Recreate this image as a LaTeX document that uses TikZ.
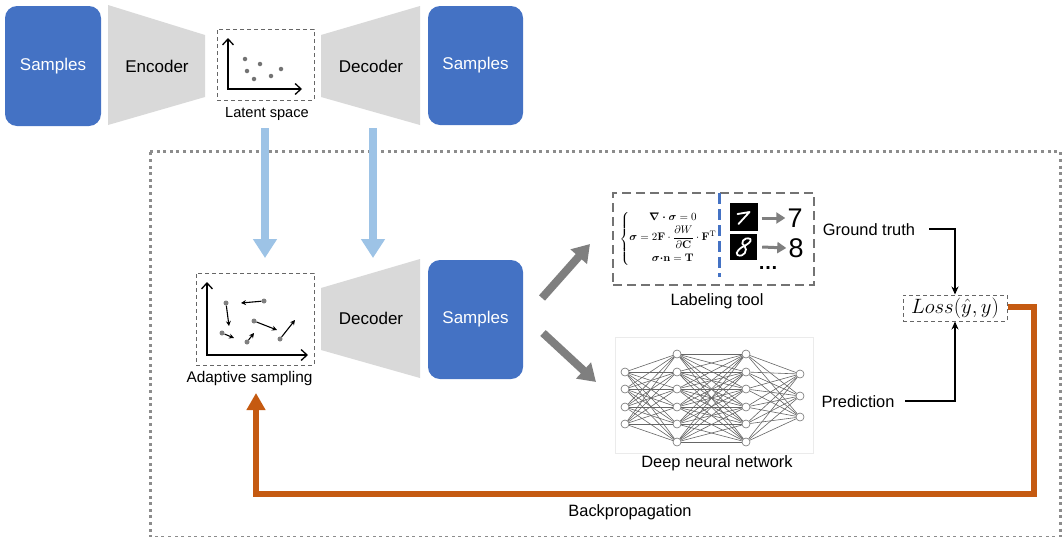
\documentclass[tikz,border=0pt]{standalone}
\usepackage{amsmath,amssymb}
\usepackage[no-math]{fontspec}
\setmainfont{Liberation Sans}
\usetikzlibrary{arrows.meta,calc}
\definecolor{sblue}{HTML}{4472C4}
\definecolor{tgray}{HTML}{D9D9D9}
\definecolor{lblue}{HTML}{9DC3E6}
\definecolor{orng}{HTML}{C55A11}
\definecolor{agray}{HTML}{7F7F7F}
\definecolor{fgray}{HTML}{8C8C8C}
\newcommand{\fs}[1]{\fontsize{#1}{#1}\selectfont}
\tikzset{
 x=1pt,y=-1pt,
 samplebox/.style={fill=sblue,rounded corners=12pt,text=white,font=\fs{17},inner sep=0},
 trapfill/.style={fill=tgray},
 trlabel/.style={font=\fs{17},text=black,inner sep=0},
 txtlabel/.style={font=\fs{16.4},text=black,inner sep=0},
 dashbox/.style={draw=black!60,line width=1pt,dash pattern=on 4pt off 3pt},
 bigarrow/.style={draw=lblue,line width=8pt,-{Triangle[length=19pt,width=23pt]}},
 grayarrow/.style={draw=agray,line width=8pt,-{Triangle[length=17pt,width=21pt]}},
 axisline/.style={draw=black,line width=1.3pt,{Straight Barb[length=6pt,width=11pt]}-{Straight Barb[length=6pt,width=11pt]}},
 latentpt/.style={circle,fill=black!55,minimum size=4.5pt,inner sep=0},
 adaptpt/.style={circle,fill=black!50,minimum size=5pt,inner sep=0},
 movearrow/.style={draw=black,line width=1.1pt,-{Stealth[length=5pt,width=5pt]}},
 neuron/.style={circle,draw=black!55,fill=white,line width=0.6pt,minimum size=8pt,inner sep=0},
 nnline/.style={draw=black!60,line width=0.6pt},
 flowarrow/.style={draw=black,line width=1.4pt,-{Stealth[length=8pt,width=7pt]}},
 backarrow/.style={draw=orng,line width=6pt,-{Triangle[length=17pt,width=18pt]}},
 digitstroke/.style={draw=white,line width=1.8pt,line cap=round,line join=round},
 smallarrow/.style={draw=agray,line width=3pt,-{Triangle[length=9pt,width=11pt]}}
}
\begin{document}
\begin{tikzpicture}
\useasboundingbox (0,0) rectangle (1062,536);
% outer dotted frame
\draw[draw=fgray,line width=3pt,dash pattern=on 3pt off 3.6pt] (150,151.5) -- (1060,151.5) -- (1060,537) -- (150,537) -- cycle;
% top row
\node[samplebox,minimum width=96pt,minimum height=120pt] (s1) at (53,66) {\raisebox{-2pt}{Samples}};
\fill[trapfill] (108,5) -- (205,35) -- (205,97) -- (108,125) -- cycle;
\node[trlabel] (enc) at (157,66) {Encoder};
\node[dashbox,minimum width=97pt,minimum height=71pt,inner sep=0] (latent) at (265.5,64.5) {};
\node[txtlabel,font=\fs{14.6}] (latentl) at (267,114) {Latent space};
\fill[trapfill] (321,35) -- (420,6) -- (420,125) -- (321,97) -- cycle;
\node[trlabel] (dec1) at (371,66) {Decoder};
\node[samplebox,minimum width=95pt,minimum height=119pt] (s2) at (475.5,65.5) {\raisebox{-2pt}{Samples}};
% latent axes
\coordinate (la0) at (228,89); \coordinate (lay) at (228,38); \coordinate (lax) at (302,89);
\draw[axisline] (lay) -- (la0) -- (lax);
\foreach \n/\a/\b in {1/245/59,2/260/64,3/247/71,4/254/79,5/271/76,6/281/69}
  \node[latentpt] (lp\n) at (\a,\b) {};
% second row
\node[dashbox,minimum width=118pt,minimum height=92pt,inner sep=0] (adapt) at (255,319) {};
\node[txtlabel,font=\fs{15.4}] (adaptl) at (249.5,379) {Adaptive sampling};
\fill[trapfill] (321,288) -- (420,259) -- (420,378) -- (321,350) -- cycle;
\node[trlabel] (dec2) at (371,318) {Decoder};
\node[samplebox,minimum width=95pt,minimum height=119pt] (s3) at (475.5,319.5) {\raisebox{-2pt}{Samples}};
\coordinate (a0) at (207,355); \coordinate (ay) at (207,282); \coordinate (ax) at (308,355);
\draw[axisline] (ay) -- (a0) -- (ax);
\foreach \n/\a/\b in {1/264/301,2/226/303,3/254/321,4/222/333,5/247/342,6/280/339}
  \node[adaptpt] (ap\n) at (\a,\b) {};
\coordinate (ae1) at (241,303); \coordinate (ae2) at (229,326); \coordinate (ae3) at (277,330);
\coordinate (ae4) at (234,338); \coordinate (ae5) at (254,333); \coordinate (ae6) at (295,320);
\foreach \n in {1,...,6} \draw[movearrow] (ap\n) -- (ae\n);
% blue arrows
\coordinate (b1s) at (265,128); \coordinate (b1e) at (265,258);
\coordinate (b2s) at (373,128); \coordinate (b2e) at (373,258);
\draw[bigarrow] (b1s) -- (b1e);
\draw[bigarrow] (b2s) -- (b2e);
% gray arrows
\coordinate (g1s) at (542,298); \coordinate (g1e) at (590,244);
\coordinate (g2s) at (543,333); \coordinate (g2e) at (596,382);
\draw[grayarrow] (g1s) -- (g1e);
\draw[grayarrow] (g2s) -- (g2e);
% labeling tool
\node[draw=black!55,line width=2.2pt,dash pattern=on 9pt off 5pt,minimum width=201pt,minimum height=92pt,inner sep=0] (label) at (713.5,239) {};
\coordinate (bd1) at (719,193); \coordinate (bd2) at (719,277);
\draw[draw=sblue,line width=3pt,dash pattern=on 11pt off 5pt] (bd1) -- (bd2);
\node[inner sep=0,font=\fs{11}] (eq) at (668.5,239) {$\left\{\begin{array}{@{}c@{}}
 \boldsymbol{\nabla\cdot\sigma}=0\\[2pt]
 \boldsymbol{\sigma}=2\mathbf{F}\cdot\dfrac{\partial W}{\partial\mathbf{C}}\cdot\mathbf{F}^{\mathrm{T}}\\[10pt]
 \boldsymbol{\sigma\cdot}\mathbf{n}=\mathbf{T}
 \end{array}\right.$};
\node[fill=black,minimum width=28pt,minimum height=28pt,inner sep=0] (d7) at (743.5,217) {};
\node[fill=black,minimum width=27pt,minimum height=26pt,inner sep=0] (d8) at (743.5,247) {};
\draw[digitstroke] ($(d7)+(-6,-3)$) -- ($(d7)+(6,-5)$) -- ($(d7)+(-5,7)$);
\draw[digitstroke] ($(d8)+(7,-8)$) .. controls ($(d8)+(0,-11)$) and ($(d8)+(-4,-3)$) .. ($(d8)+(1,-1)$) .. controls ($(d8)+(5,3)$) and ($(d8)+(0,11)$) .. ($(d8)+(-6,8)$) .. controls ($(d8)+(-9,6)$) and ($(d8)+(-3,0)$) .. ($(d8)+(1,-1)$) .. controls ($(d8)+(4,-3)$) and ($(d8)+(8,-5)$) .. ($(d8)+(7,-8)$);
\node[font=\fs{27},inner sep=0] (n7) at (795,218) {7};
\node[font=\fs{27},inner sep=0] (n8) at (796,248) {8};
\draw[smallarrow] ($(d7.east)+(4,1)$) -- ($(n7.west)+(-2,0)$);
\draw[smallarrow] ($(d8.east)+(5,0)$) -- ($(n8.west)+(-2,0)$);
\node[font=\bfseries\fs{20},inner sep=0] (dots) at (768,268) {…};
\node[txtlabel] (labell) at (717,301) {Labeling tool};
% neural network
\node[draw=black!8,line width=0.6pt,fill=white,minimum width=198pt,minimum height=116pt,inner sep=0] (nnbox) at (714,395) {};
\foreach \i/\y in {1/372,2/389,3/407,4/424} \node[neuron] (A\i) at (625,\y) {};
\foreach \i/\y in {1/354,2/372,3/389,4/407,5/424,6/442} \node[neuron] (B\i) at (677,\y) {};
\foreach \i/\y in {1/354,2/372,3/389,4/407,5/424,6/442} \node[neuron] (C\i) at (746,\y) {};
\foreach \i/\y in {1/374,2/396,3/417} \node[neuron] (D\i) at (800,\y) {};
\foreach \i in {1,...,4} \foreach \j in {1,...,6} \draw[nnline] (A\i) -- (B\j);
\foreach \i in {1,...,6} \foreach \j in {1,...,6} \draw[nnline] (B\i) -- (C\j);
\foreach \i in {1,...,6} \foreach \j in {1,...,3} \draw[nnline] (C\i) -- (D\j);
\node[txtlabel] (nnl) at (717,463) {Deep neural network};
% loss
\node[dashbox,line width=1pt,minimum width=104pt,minimum height=26pt,inner sep=0,font=\fs{22}] (loss) at (955,308) {$Loss(\hat{y},y)$};
\node[txtlabel] (gt) at (869,229.5) {Ground truth};
\node[txtlabel] (pred) at (858,401.5) {Prediction};
\coordinate (gte) at (929,229); \coordinate (pre) at (905,401);
\draw[flowarrow] (gte) -| (loss.north);
\draw[flowarrow] (pre) -| (loss.south);
% backpropagation
\coordinate (bk1) at (1034,306.5); \coordinate (bk2) at (1034,494); \coordinate (bk3) at (256,494); \coordinate (bk4) at (256,393);
\draw[backarrow] (loss.east |- bk1) -- (bk1) -- (bk2) -- (bk3) -- (bk4);
\node[txtlabel] (bpl) at (630,512.5) {Backpropagation};
\end{tikzpicture}
\end{document}
